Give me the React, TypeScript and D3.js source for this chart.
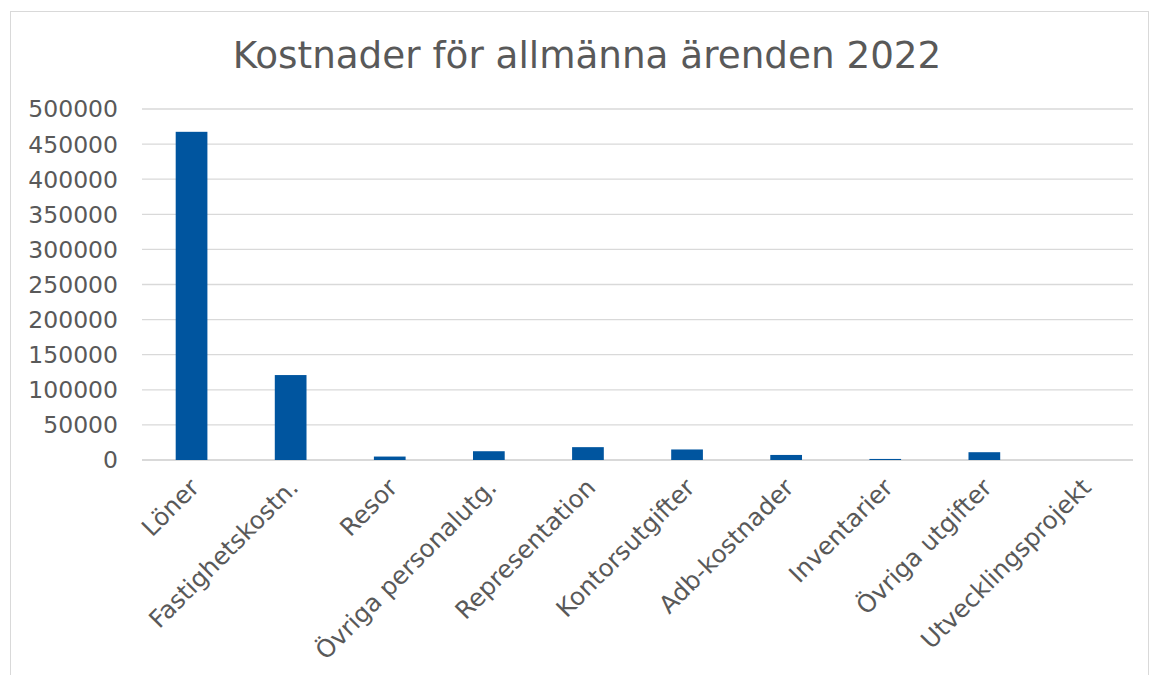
import React from 'react'
import * as d3 from 'd3'

const categories = ['Löner', 'Fastighetskostn.', 'Resor', 'Övriga personalutg.', 'Representation', 'Kontorsutgifter', 'Adb-kostnader', 'Inventarier', 'Övriga utgifter', 'Utvecklingsprojekt']
const values = [467500, 121000, 4900, 12500, 18300, 15000, 7200, 1500, 11100, 0]
const yTicks = [0, 50000, 100000, 150000, 200000, 250000, 300000, 350000, 400000, 450000, 500000]

export default function App() {
  const W = 1149, H = 675
  const left = 142, right = 1133, top = 109, bottom = 460
  const x = d3.scaleBand<string>().domain(categories).range([left, right]).padding(0)
  const y = d3.scaleLinear().domain([0, 500000]).range([bottom, top])
  const bw = x.step() * 0.32
  const font = 'DejaVu Sans, Verdana, sans-serif'

  return (
    <svg width={W} height={H} style={{ position: 'absolute', left: 0, top: 0, background: '#fff' }}>
      <rect x={10.5} y={11.5} width={W - 11} height={H} fill="#fff" stroke="#d9d9d9" />
      <text x={587} y={68} textAnchor="middle" fontFamily={font} fontSize={37.3} fill="#595959">
        Kostnader för allmänna ärenden 2022
      </text>
      {yTicks.map(t => (
        <g key={t}>
          <line x1={left} x2={right} y1={y(t)} y2={y(t)} stroke="#d9d9d9" strokeWidth={t === 0 ? 2 : 1.3} />
          <text x={118} y={y(t)} dy="0.36em" textAnchor="end" fontFamily={font} fontSize={23.5} fill="#595959">{t}</text>
        </g>
      ))}
      {categories.map((c, i) => (
        <rect key={c} x={(x(c) ?? 0) + x.bandwidth() / 2 - bw / 2} y={y(values[i])} width={bw} height={y(0) - y(values[i])} fill="#00559f" />
      ))}
      {categories.map(c => {
        const cx = (x(c) ?? 0) + x.bandwidth() / 2 + 3
        const cy = bottom + 23
        return (
          <text key={c} x={cx} y={cy} textAnchor="end" dy="0.35em" fontFamily={font} fontSize={24.5} fill="#595959" transform={`rotate(-45,${cx},${cy})`}>{c}</text>
        )
      })}
    </svg>
  )
}
